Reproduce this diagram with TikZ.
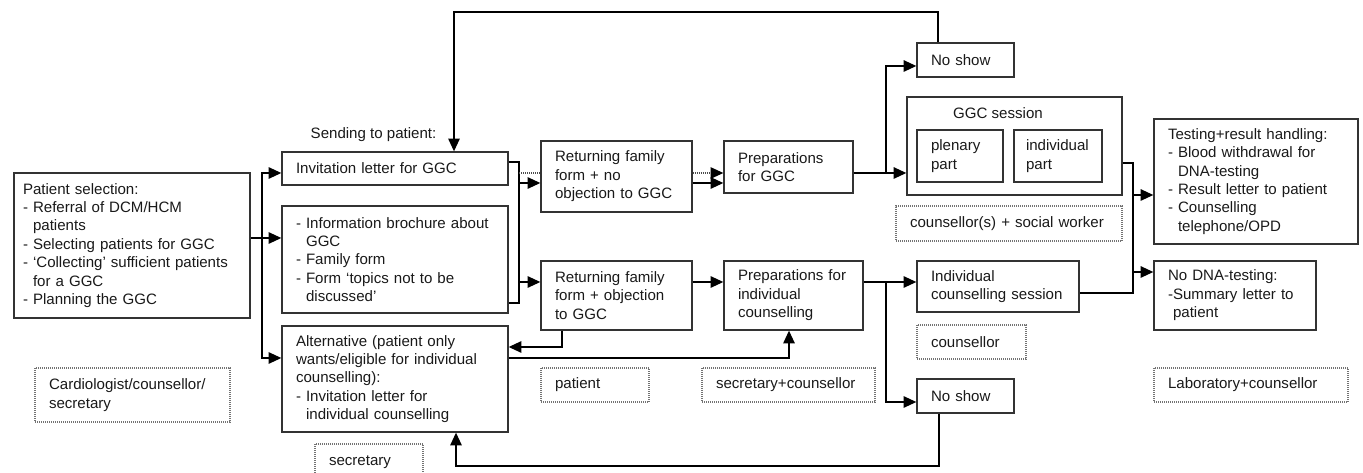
\documentclass[tikz,border=0pt]{standalone}
\usepackage{fontspec}
\setmainfont{Liberation Sans}
\usepackage{tikz}
\usetikzlibrary{arrows.meta}
\newlength{\px}
\setlength{\px}{0.75pt}
\hyphenpenalty=10000
\exhyphenpenalty=10000

\begin{document}
\begin{tikzpicture}[x=0.75pt, y=-0.75pt,
		font=\fontsize{11.3}{13.8}\selectfont,
		caja/.style={draw=black!80, line width=1.3\px, align=left, inner ysep=0pt, inner xsep=14\px, text=black!90},
		rol/.style={caja, draw=black!55, dash pattern=on 1\px off 1\px},
		tam/.style 2 args={minimum width=#1\px, minimum height=#2\px, text width=#1\px-28\px},
		linea/.style={line width=1.6\px},
		flecha/.style={linea, -{Triangle[length=9.5pt,width=8.5pt,color=black]}},
		punteada/.style={black!70, line width=1.3\px, dash pattern=on 1\px off 1\px}]
		\useasboundingbox (0,0) rectangle (1363,473);
		% Seleccion de pacientes
		\node[caja, tam={236}{145}, inner xsep=9\px, text width=218\px] (ps) at (132,245.5) {Patient selection:\\- Referral of DCM/HCM\\\phantom{- }patients\\- Selecting patients for GGC\\- `Collecting' sufficient patients\\\phantom{- }for a GGC\\- Planning the GGC};
		\node[rol, tam={195}{54}] (cardio) at (132.5,395) {Cardiologist/counsellor/\\secretary};
		% Envio al paciente
		\node[anchor=west, text=black!90] (envio) at (306,135) {Sending to patient:};
		\node[caja, tam={226}{33}] (inv) at (395,168.5) {Invitation letter for GGC};
		\node[caja, tam={226}{107}] (info) at (395,259.5) {- Information brochure about\\\phantom{- }GGC\\- Family form\\- Form `topics not to be\\\phantom{- }discussed'};
		\node[caja, tam={226}{106}] (alt) at (395,379) {Alternative (patient only\\wants/eligible for individual\\counselling):\\- Invitation letter for\\\phantom{- }individual counselling};
		\node[rol, tam={108}{36}] (secr) at (369,462) {secretary};
		% Respuesta del paciente
		\node[caja, tam={151}{71}] (retno) at (616.5,176.5) {Returning family\\form + no\\objection to GGC};
		\node[caja, tam={151}{69}] (retobj) at (616.5,295.5) {Returning family\\form + objection\\to GGC};
		\node[rol, tam={108}{34}] (pac) at (595,385) {patient};
		% Preparaciones
		\node[caja, tam={129}{52}] (prepggc) at (788.5,167) {Preparations\\for GGC};
		\node[caja, tam={139}{69}] (prepind) at (793.5,295.5) {Preparations for\\individual\\counselling};
		\node[rol, tam={173}{34}] (seccoun) at (788.5,385) {secretary+counsellor};
		% Sesiones
		\node[caja, tam={97}{34}] (noshowA) at (965.5,60) {No show};
		\node[caja, tam={215}{98}] (ggc) at (1014.5,146) {};
		\node[text=black!90] (ggctit) at (998,113) {GGC session};
		\node[caja, tam={86}{52}] (plen) at (960,156) {plenary\\part};
		\node[caja, tam={88}{52}, inner xsep=12\px, text width=64\px] (indpart) at (1058,156) {individual\\part};
		\node[rol, tam={226}{35}] (csw) at (1009,223.5) {counsellor(s) + social worker};
		\node[caja, tam={162}{51}] (indcoun) at (998,286.5) {Individual\\counselling session};
		\node[rol, tam={109}{34}] (coun) at (971.5,342) {counsellor};
		\node[caja, tam={97}{34}] (noshowB) at (965.5,396) {No show};
		% Laboratorio
		\node[caja, tam={204}{125}] (testing) at (1256,181.5) {Testing+result handling:\\- Blood withdrawal for\\\phantom{- }DNA-testing\\- Result letter to patient\\- Counselling\\\phantom{- }telephone/OPD};
		\node[caja, tam={162}{69}] (nodna) at (1235,295.5) {No DNA-testing:\\-Summary letter to\\\phantom{-}patient};
		\node[rol, tam={194}{34}] (lab) at (1251,385) {Laboratory+counsellor};
		% Puntos de union
		\coordinate (busA) at (262,238);
		\coordinate (busAtop) at (262,173);
		\coordinate (busAbot) at (262,358);
		\coordinate (busBtop) at (519,162);
		\coordinate (busB0) at (519,173);
		\coordinate (busB1) at (519,183);
		\coordinate (busB2) at (519,282);
		\coordinate (busBbot) at (519,303);
		\coordinate (busC) at (886,173);
		\coordinate (busCtop) at (886,66);
		\coordinate (topR) at (938,12);
		\coordinate (topL) at (454,12);
		\coordinate (busDtop) at (1133,163);
		\coordinate (busD1) at (1133,195);
		\coordinate (busD2) at (1133,272);
		\coordinate (busDbot) at (1133,293);
		\coordinate (busE) at (886,282);
		\coordinate (busEbot) at (886,402);
		\coordinate (fbA) at (562,347);
		\coordinate (fbB) at (789,358);
		\coordinate (fbC) at (939,466);
		\coordinate (fbD) at (456,466);
		% Conexiones
		\draw[linea] (ps.east |- busA) -- (busA);
		\draw[flecha] (busA) -- (info.west |- busA);
		\draw[flecha] (busA) -- (busAtop) -- (inv.west |- busAtop);
		\draw[flecha] (busA) -- (busAbot) -- (alt.west |- busAbot);
		\draw[linea] (inv.east |- busBtop) -- (busBtop) -- (busBbot) -- (info.east |- busBbot);
		\draw[punteada] (busB0) -- (retno.west |- busB0);
		\draw[flecha] (busB1) -- (retno.west |- busB1);
		\draw[flecha] (busB2) -- (retobj.west |- busB2);
		\draw[flecha, punteada] (retno.east |- busB0) -- (prepggc.west |- busB0);
		\draw[flecha] (retno.east |- busB1) -- (prepggc.west |- busB1);
		\draw[flecha] (retobj.east |- busB2) -- (prepind.west |- busB2);
		\draw[linea] (prepggc.east |- busC) -- (busC);
		\draw[flecha] (busC) -- (ggc.west |- busC);
		\draw[flecha] (busC) -- (busCtop) -- (noshowA.west |- busCtop);
		\draw[flecha] (noshowA.north -| topR) -- (topR) -- (topL) -- (inv.north -| topL);
		\draw[linea] (ggc.east |- busDtop) -- (busDtop) -- (busDbot) -- (indcoun.east |- busDbot);
		\draw[flecha] (busD1) -- (testing.west |- busD1);
		\draw[flecha] (busD2) -- (nodna.west |- busD2);
		\draw[linea] (prepind.east |- busE) -- (busE);
		\draw[flecha] (busE) -- (indcoun.west |- busE);
		\draw[flecha] (busE) -- (busEbot) -- (noshowB.west |- busEbot);
		\draw[flecha] (retobj.south -| fbA) -- (fbA) -- (alt.east |- fbA);
		\draw[flecha] (alt.east |- fbB) -- (fbB) -- (prepind.south -| fbB);
		\draw[flecha] (noshowB.south -| fbC) -- (fbC) -- (fbD) -- (alt.south -| fbD);
	\end{tikzpicture}
\end{document}
